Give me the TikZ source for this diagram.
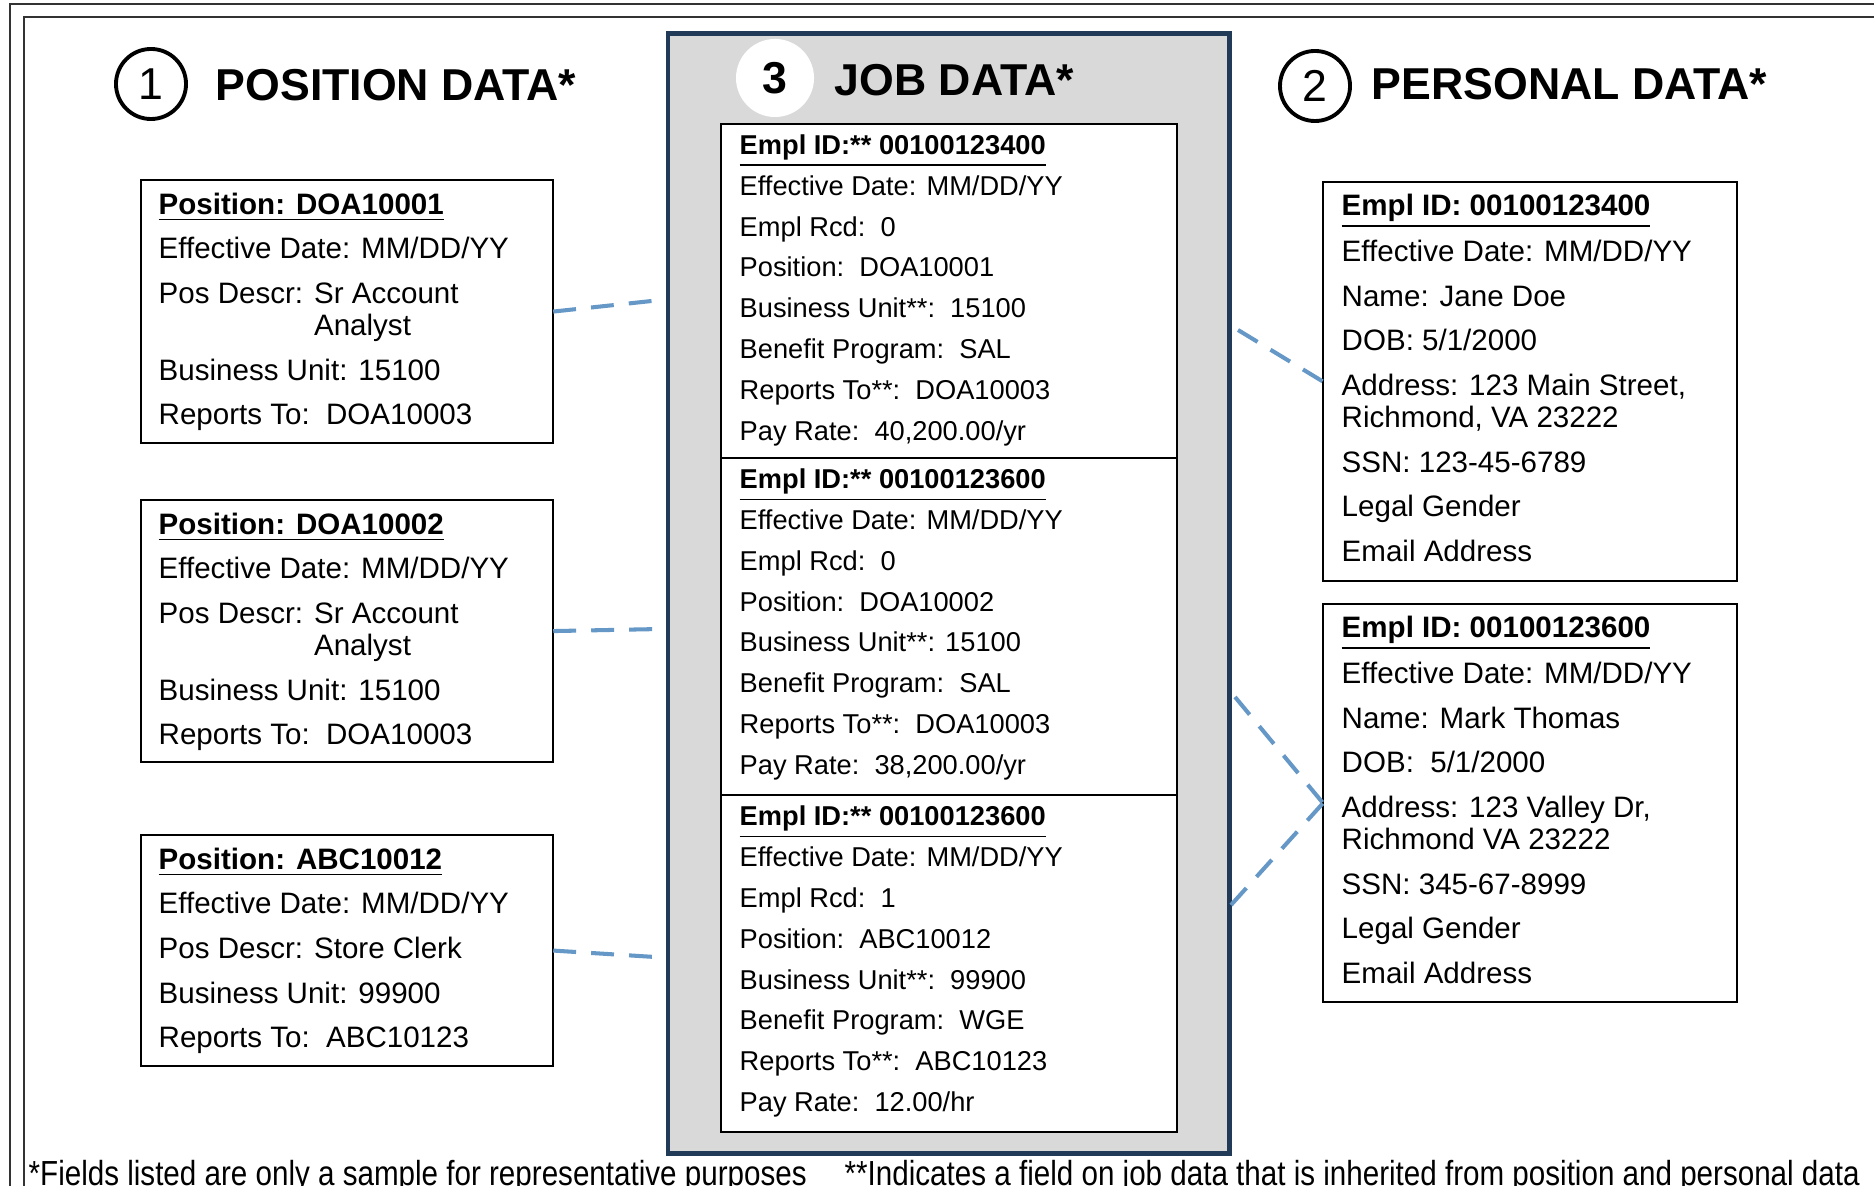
\documentclass[tikz,border=0pt]{standalone}
\usepackage{fontspec}
\setmainfont{Liberation Sans}
\usetikzlibrary{positioning}
\definecolor{jobgrey}{RGB}{217,217,217}
\definecolor{jobblue}{RGB}{33,58,87}
\definecolor{linkblue}{RGB}{101,152,198}
\tikzset{
  recbox/.style={draw,line width=0.6pt,fill=white,anchor=north west,inner sep=0pt,outer sep=0pt},
  rectext/.style={anchor=north west,inner sep=0pt,align=left,font=\fontsize{8.4}{9.1}\selectfont},
  jobtext/.style={anchor=north west,inner sep=0pt,align=left,font=\fontsize{7.75}{11.6}\selectfont},
  numcirc/.style={circle,draw,line width=1.1pt,minimum size=0.7cm,inner sep=0pt,font=\fontsize{12.7}{15}\selectfont},
  heading/.style={anchor=base west,inner sep=0pt,font=\fontsize{12.7}{15}\selectfont\bfseries},
  link/.style={draw=linkblue,line width=1.15pt,dash pattern=on 6.5pt off 4.3pt},
  note/.style={anchor=base west,inner sep=0pt,font=\fontsize{9.9}{12}\selectfont}
}
\begin{document}
\begin{tikzpicture}[x=0.01cm,y=-0.01cm]
  \useasboundingbox[fill=white] (0,0) rectangle (1874,1186);
  % Screenshot frame
  \draw[line width=0.6pt,black!80] (10,1186) |- (1874,4);
  \draw[line width=0.45pt,black!80] (24,1186) |- (1874,17);
  % Middle part of the Figure: job data
  \node[draw=jobblue,line width=1.4pt,fill=jobgrey,anchor=north west,inner sep=0pt,minimum width=5.61cm,minimum height=11.19cm] (job) at (665.5,31.5) {};
  \node[circle,fill=white,minimum size=0.78cm,inner sep=0pt,font=\fontsize{12.7}{15}\selectfont\bfseries] (c3) at (775,78) {3};
  \node[heading] (t3) at (834,96) {JOB DATA*};
  \node[recbox,minimum width=4.56cm,minimum height=3.34cm] (job1) at (721,124) {};
  \node[recbox,minimum width=4.56cm,minimum height=3.37cm,below=0pt of job1] (job2) {};
  \node[recbox,minimum width=4.56cm,minimum height=3.36cm,below=0pt of job2] (job3) {};
  \node[jobtext] (job1t) at ([xshift=0.18cm,yshift=-0.10cm]job1.north west) {\underline{\textbf{Empl ID:** 00100123400}}\\
    Effective Date: MM/DD/YY\\ Empl Rcd:\ \ 0\\ Position:\ \ DOA10001\\ Business Unit**:\ \ 15100\\
    Benefit Program:\ \ SAL\\ Reports To**:\ \ DOA10003\\ Pay Rate:\ \ 40,200.00/yr};
  \node[jobtext] (job2t) at ([xshift=0.18cm,yshift=-0.10cm]job2.north west) {\underline{\textbf{Empl ID:** 00100123600}}\\
    Effective Date: MM/DD/YY\\ Empl Rcd:\ \ 0\\ Position:\ \ DOA10002\\ Business Unit**: 15100\\
    Benefit Program:\ \ SAL\\ Reports To**:\ \ DOA10003\\ Pay Rate:\ \ 38,200.00/yr};
  \node[jobtext] (job3t) at ([xshift=0.18cm,yshift=-0.10cm]job3.north west) {\underline{\textbf{Empl ID:** 00100123600}}\\
    Effective Date: MM/DD/YY\\ Empl Rcd:\ \ 1\\ Position:\ \ ABC10012\\ Business Unit**:\ \ 99900\\
    Benefit Program:\ \ WGE\\ Reports To**:\ \ ABC10123\\ Pay Rate:\ \ 12.00/hr};
  % Left-hand side part of the Figure: position data
  \node[numcirc] (c1) at (151,84) {1};
  \node[heading] (t1) at (215,101) {POSITION DATA*};
  \node[recbox,minimum width=4.12cm,minimum height=2.63cm] (pos1) at (141,180) {};
  \node[recbox,minimum width=4.12cm,minimum height=2.62cm] (pos2) at (141,500) {};
  \node[recbox,minimum width=4.12cm,minimum height=2.31cm] (pos3) at (141,835) {};
  \node[rectext] (pos1t) at ([xshift=0.17cm,yshift=-0.12cm]pos1.north west) {\underline{\textbf{Position: DOA10001}}\\[3.6pt]
    Effective Date: MM/DD/YY\\[3.6pt] Pos Descr: Sr Account\\ \hphantom{Pos Descr: }Analyst\\[3.6pt]
    Business Unit: 15100\\[3.6pt] Reports To:\ \ DOA10003};
  \node[rectext] (pos2t) at ([xshift=0.17cm,yshift=-0.12cm]pos2.north west) {\underline{\textbf{Position: DOA10002}}\\[3.6pt]
    Effective Date: MM/DD/YY\\[3.6pt] Pos Descr: Sr Account\\ \hphantom{Pos Descr: }Analyst\\[3.6pt]
    Business Unit: 15100\\[3.6pt] Reports To:\ \ DOA10003};
  \node[rectext] (pos3t) at ([xshift=0.17cm,yshift=-0.12cm]pos3.north west) {\underline{\textbf{Position: ABC10012}}\\[3.6pt]
    Effective Date: MM/DD/YY\\[3.6pt] Pos Descr: Store Clerk\\[3.6pt]
    Business Unit: 99900\\[3.6pt] Reports To:\ \ ABC10123};
  % Right-hand side part of the Figure: personal data
  \node[numcirc] (c2) at (1315,86) {2};
  \node[heading] (t2) at (1371,100) {PERSONAL DATA*};
  \node[recbox,minimum width=4.14cm,minimum height=3.99cm] (per1) at (1323,182) {};
  \node[recbox,minimum width=4.14cm,minimum height=3.98cm] (per2) at (1323,604) {};
  \node[rectext] (per1t) at ([xshift=0.18cm,yshift=-0.11cm]per1.north west) {\underline{\textbf{Empl ID: 00100123400}}\\[2.4pt]
    Effective Date: MM/DD/YY\\[3.6pt] Name: Jane Doe\\[3.6pt] DOB: 5/1/2000\\[3.6pt]
    Address: 123 Main Street,\\ Richmond, VA 23222\\[3.6pt] SSN: 123-45-6789\\[3.6pt]
    Legal Gender\\[3.6pt] Email Address};
  \node[rectext] (per2t) at ([xshift=0.18cm,yshift=-0.11cm]per2.north west) {\underline{\textbf{Empl ID: 00100123600}}\\[2.4pt]
    Effective Date: MM/DD/YY\\[3.6pt] Name: Mark Thomas\\[3.6pt] DOB:\ \ 5/1/2000\\[3.6pt]
    Address: 123 Valley Dr,\\ Richmond VA 23222\\[3.6pt] SSN: 345-67-8999\\[3.6pt]
    Legal Gender\\[3.6pt] Email Address};
  % Links
  \coordinate (j1) at (661,300);
  \coordinate (j2) at (661,629);
  \coordinate (j3) at (655,957);
  \coordinate (k1) at (1238,330);
  \coordinate (k2) at (1235,697);
  \coordinate (k3) at (1231,905);
  \draw[link] (pos1.east) -- (j1);
  \draw[link] (pos2.east) -- (j2);
  \draw[link] (pos3.east) -- (j3);
  \draw[link] (k1) -- (per1.west);
  \draw[link] (k2) -- (per2.west);
  \draw[link] (k3) -- (per2.west);
  % Footnotes
  \node[note] (n1) at (28,1185) {\scalebox{0.85}[1]{*Fields listed are only a sample for representative purposes}};
  \node[note] (n2) at (844,1185) {\scalebox{0.85}[1]{**Indicates a field on job data that is inherited from position and personal data}};
\end{tikzpicture}
\end{document}
